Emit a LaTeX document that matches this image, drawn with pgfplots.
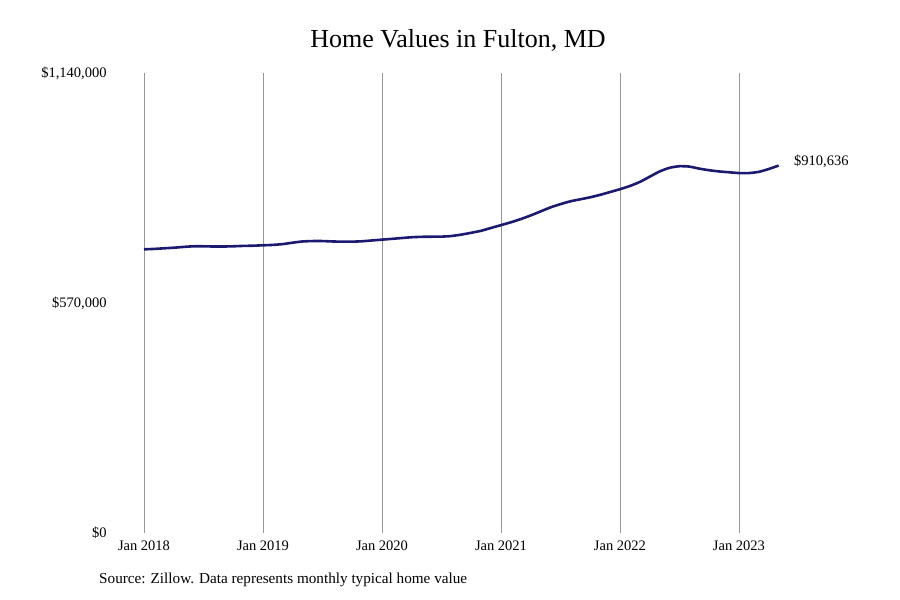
\documentclass[border=0pt]{standalone}
\usepackage{pgfplots}
\pgfplotsset{compat=1.18}
\usepackage{fontspec}
\setmainfont{Liberation Serif}
\definecolor{navyline}{RGB}{28,26,112}
\definecolor{gridgray}{RGB}{150,150,150}
\begin{document}
\begin{tikzpicture}
\useasboundingbox (0,0) rectangle (900pt,600pt);
\begin{axis}[
    at={(114.25pt,67pt)}, anchor=south west,
    scale only axis,
    width=767.5pt, height=460pt,
    xmin=-3, xmax=74.4,
    ymin=0, ymax=1140000,
    axis lines=left,
    axis line style={draw=none,-},
    major tick style={draw=none},
    scaled y ticks=false,
    xtick={0,12,24,36,48,60},
    xticklabels={Jan 2018,Jan 2019,Jan 2020,Jan 2021,Jan 2022,Jan 2023},
    ytick={0,570000,1140000},
    yticklabels={{\$0},{\$570,000},{\$1,140,000}},
    xmajorgrids=true,
    grid style={gridgray, line width=0.9pt},
    ticklabel style={font=\fontsize{14.5}{17}\selectfont},
    yticklabel style={xshift=-2pt},
    xticklabel style={yshift=-2pt},
    clip=false
]
\addplot[color=navyline, line width=2.6pt, smooth, tension=0.4] coordinates {
 (0,703000)(1,704000)(2,705500)(3,707000)(4,709000)(5,710500)
 (6,710500)(7,710000)(8,710000)(9,710500)(10,711500)(11,712000)
 (12,713000)(13,714000)(14,716000)(15,719500)(16,722500)(17,723500)
 (18,723500)(19,722500)(20,722000)(21,722000)(22,723000)(23,725000)
 (24,727000)(25,729000)(26,731000)(27,733000)(28,734000)(29,734300)
 (30,734500)(31,736000)(32,739500)(33,744000)(34,749000)(35,756000)
 (36,763000)(37,770000)(38,778000)(39,787000)(40,797000)(41,807000)
 (42,815000)(43,822000)(44,827000)(45,832000)(46,838000)(47,845000)
 (48,852000)(49,860000)(50,870000)(51,883000)(52,896000)(53,905000)
 (54,909000)(55,908000)(56,903000)(57,899000)(58,896000)(59,894000)
 (60,892000)(61,892000)(62,895000)(63,902000)(64,910636)
};
\node[anchor=west, font=\fontsize{14.5}{17}\selectfont, xshift=12pt, yshift=4pt]
  at (axis cs:64,910636) {\$910,636};
\end{axis}
\node[font=\fontsize{26}{30}\selectfont] at (458pt,560pt) {Home Values in Fulton, MD};
\node[anchor=west, inner sep=0pt, font=\fontsize{15.2}{18}\selectfont] at (99pt,20pt)
  {Source: Zillow. Data represents monthly typical home value};
\end{tikzpicture}
\end{document}
